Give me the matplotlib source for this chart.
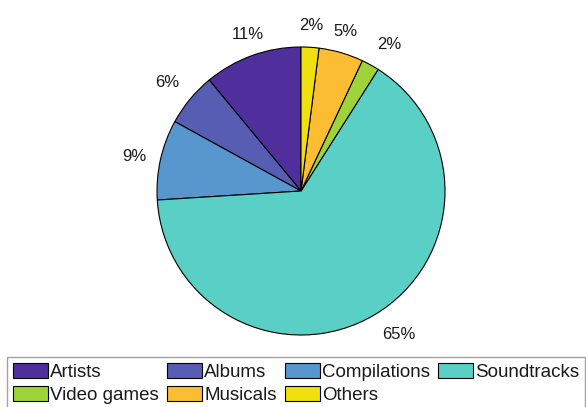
import numpy as np
import matplotlib
matplotlib.use("Agg")
import matplotlib.pyplot as plt

categories = ["Artists", "Albums", "Compilations", "Soundtracks",
              "Video games", "Musicals", "Others"]
values = [11, 6, 9, 65, 2, 5, 2]
colors = ["#4f2f9c", "#575db2", "#5897cd", "#5acfc6",
          "#9ed33a", "#fbbd32", "#f1e00f"]

plt.rcParams['font.family'] = ['Liberation Sans', 'DejaVu Sans']

W, H = 586, 407
fig = plt.figure(figsize=(W / 100, H / 100), dpi=100)
fig.patch.set_facecolor('white')

cx, cy, R = 301, 191, 144
ax = fig.add_axes([(cx - R) / W, (H - cy - R) / H, 2 * R / W, 2 * R / H])
wedges, _ = ax.pie(values, colors=colors, startangle=90, counterclock=True,
                   radius=1.0,
                   wedgeprops=dict(edgecolor='black', linewidth=0.8))
ax.set_xlim(-1, 1)
ax.set_ylim(-1, 1)
ax.set_aspect('equal')
ax.axis('off')

total = sum(values)
for w, v in zip(wedges, values):
    th = np.deg2rad((w.theta1 + w.theta2) / 2)
    c, s = np.cos(th), np.sin(th)
    x, y = 1.1 * c, 1.1 * s
    ha = 'left' if c > 0.4 else ('right' if c < -0.4 else 'center')
    va = 'bottom' if s > 0.3 else ('top' if s < -0.3 else 'center')
    ax.text(x, y, f"{100 * v / total:.0f}%", ha=ha, va=va, fontsize=12,
            color='#1a1a1a', clip_on=False)

# legend filled row-wise (matplotlib fills column-wise)
ncol = 4
n = len(categories)
nrow = int(np.ceil(n / ncol))
order = [r * ncol + c for c in range(ncol) for r in range(nrow)
         if r * ncol + c < n]
leg = fig.legend([wedges[i] for i in order], [categories[i] for i in order],
                 loc='upper left',
                 bbox_to_anchor=(7 / W, 1 - 357 / H), ncol=ncol,
                 fontsize=13.5, frameon=True, fancybox=False,
                 handlelength=1.87, handleheight=0.85, handletextpad=0.13,
                 columnspacing=0.42, labelspacing=0.3, borderpad=0.3,
                 borderaxespad=0)
leg.get_frame().set_edgecolor('#8c8c8c')
leg.get_frame().set_linewidth(1.0)
for t in leg.get_texts():
    t.set_color('#1a1a1a')

fig.savefig('out.png', dpi=100, facecolor='white')
